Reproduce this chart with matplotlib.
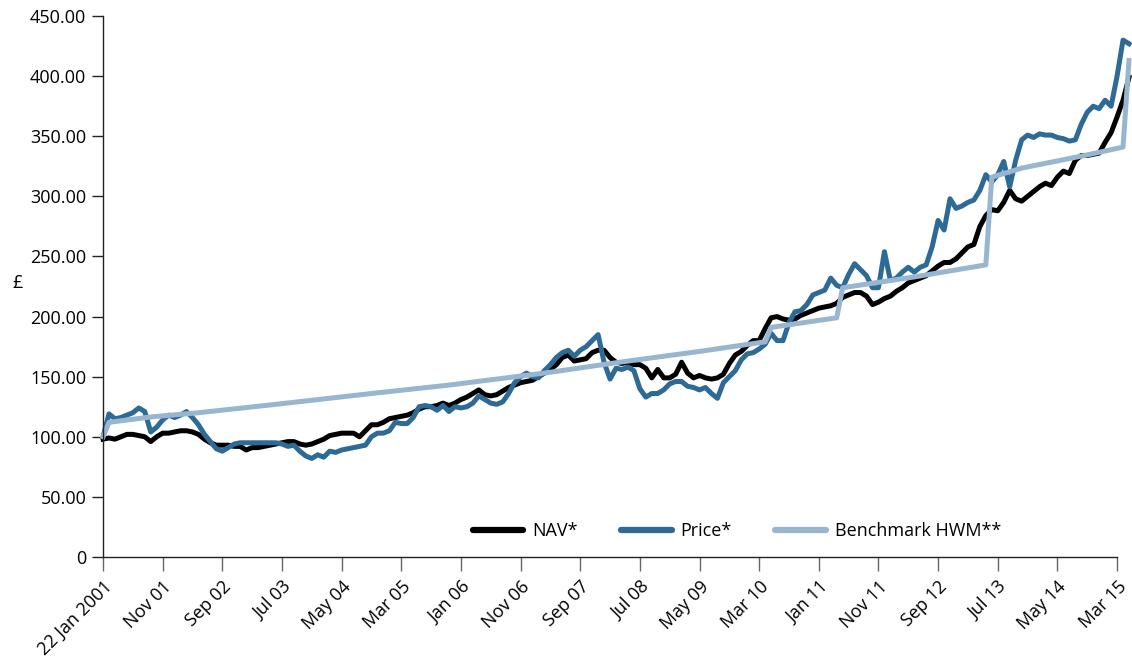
import numpy as np
import matplotlib
matplotlib.use("Agg")
import matplotlib.pyplot as plt
from matplotlib.ticker import FuncFormatter

plt.rcParams['font.family'] = ['Open Sans', 'DejaVu Sans']

# monthly data, month 0 = Jan 2001
nav = [98, 99, 98, 100, 102, 102, 101, 100, 96, 100,
       103, 103, 104, 105, 105, 104, 102, 98, 95, 93,
       93, 93, 92, 92, 89, 91, 91, 92, 93, 94,
       95, 96, 96, 94, 93, 94, 96, 98, 101, 102,
       103, 103, 103, 100, 105, 110, 110, 112, 115, 116,
       117, 118, 120, 123, 125, 125, 126, 128, 126, 128,
       131, 133, 136, 139, 135, 134, 135, 138, 141, 143,
       145, 146, 147, 150, 153, 156, 160, 166, 168, 163,
       164, 165, 170, 172, 172, 166, 162, 161, 162, 160,
       160, 157, 149, 156, 149, 149, 152, 162, 153, 149,
       151, 149, 148, 149, 152, 161, 168, 171, 176, 180,
       180, 190, 199, 200, 198, 197, 198, 201, 203, 205,
       207, 208, 209, 211, 216, 218, 220, 220, 217, 210,
       212, 215, 217, 221, 224, 228, 230, 232, 234, 238,
       242, 245, 245, 248, 253, 258, 260, 275, 284, 289,
       288, 295, 305, 298, 296, 300, 304, 308, 311, 309,
       316, 321, 319, 330, 334, 334, 335, 336, 345, 353,
       366, 380, 399]

price = [100, 119, 115, 116, 118, 120, 124, 121, 104, 108,
         114, 118, 116, 118, 121, 116, 110, 102, 96, 90,
         88, 91, 94, 95, 95, 95, 95, 95, 95, 95,
         94, 92, 93, 88, 84, 82, 85, 83, 88, 87,
         89, 90, 91, 92, 93, 100, 103, 103, 105, 112,
         111, 111, 116, 125, 126, 125, 122, 126, 121, 125,
         124, 125, 128, 134, 131, 128, 127, 129, 136, 145,
         150, 153, 150, 149, 155, 160, 166, 170, 172, 167,
         172, 175, 180, 185, 162, 148, 157, 156, 158, 155,
         140, 133, 136, 136, 139, 144, 146, 146, 142, 141,
         139, 141, 136, 132, 145, 150, 155, 164, 169, 170,
         173, 177, 186, 180, 180, 195, 204, 205, 210, 218,
         220, 222, 232, 226, 224, 235, 244, 239, 234, 224,
         224, 254, 230, 232, 237, 241, 237, 241, 243, 258,
         280, 272, 298, 290, 292, 295, 297, 305, 318, 312,
         318, 329, 308, 330, 347, 351, 349, 352, 351, 351,
         349, 348, 346, 347, 360, 370, 375, 373, 380, 375,
         400, 430, 427]

bench_months = [0, 1, 8, 16, 29, 45, 58, 74, 88, 100, 111, 112, 123, 124,
                136, 148, 149, 154, 159, 165, 171, 172]
bench = [100, 112, 116.5, 120, 127, 136, 143, 153, 163, 171, 179, 191, 199, 224,
         233, 243, 316, 323.5, 328.5, 334.5, 341, 413]

tick_months = [0, 10, 20, 30, 40, 50, 60, 70, 80, 90, 100, 110, 120, 130, 140, 150, 160, 170]
tick_labels = ['22 Jan 2001', 'Nov 01', 'Sep 02', 'Jul 03', 'May 04', 'Mar 05', 'Jan 06',
               'Nov 06', 'Sep 07', 'Jul 08', 'May 09', 'Mar 10', 'Jan 11', 'Nov 11',
               'Sep 12', 'Jul 13', 'May 14', 'Mar 15']

months = np.arange(len(nav))

fig = plt.figure(figsize=(11.32, 6.70), dpi=100)
ax = fig.add_axes([0.091, 0.1687, 0.8958, 0.8073])

ax.plot(months, nav, color='black', lw=3.6, label='NAV*', clip_on=False,
        solid_joinstyle='round')
ax.plot(np.arange(len(price)), price, color='#2e6a96', lw=3.6, label='Price*',
        clip_on=False, solid_joinstyle='round')
ax.plot(bench_months, bench, color='#98b6cf', lw=3.6, label='Benchmark HWM**',
        clip_on=False, solid_joinstyle='round')

ax.set_xlim(0, 170)
ax.set_ylim(0, 450)
ax.set_yticks(np.arange(0, 451, 50))
ax.yaxis.set_major_formatter(FuncFormatter(lambda v, p: '0' if v == 0 else '%.2f' % v))
ax.set_xticks(tick_months)
ax.set_xticklabels(tick_labels, rotation=45, ha='right', rotation_mode='anchor')

ax.spines['top'].set_visible(False)
ax.spines['right'].set_visible(False)
for s in ['left', 'bottom']:
    ax.spines[s].set_color('#222222')
    ax.spines[s].set_linewidth(1.0)
ax.tick_params(axis='x', length=10, width=1, color='#666666', labelsize=13, pad=5)
ax.tick_params(axis='y', length=8, width=1, color='#222222', labelsize=13, pad=4)

fig.text(0.011, 0.577, '£', fontsize=13, ha='left', va='center')

leg = ax.legend(loc='center', bbox_to_anchor=(0.625, 0.048), ncol=3, frameon=False,
                fontsize=13, handlelength=2.8, handletextpad=0.5, columnspacing=2.4)
for line in leg.get_lines():
    line.set_linewidth(4.5)
    line.set_solid_capstyle('round')

fig.savefig('out.png', dpi=100)
